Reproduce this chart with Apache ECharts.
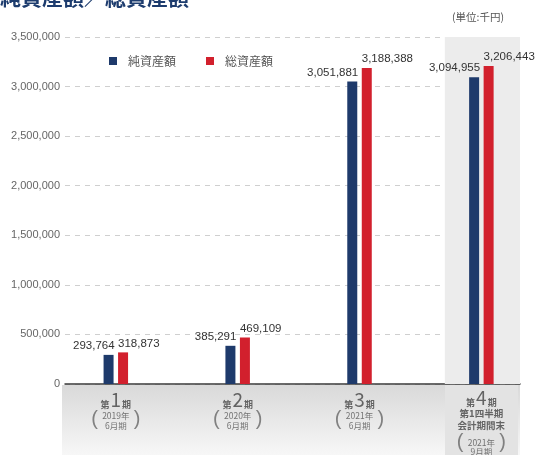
<!DOCTYPE html>
<html><head><meta charset="utf-8">
<script src="https://cdn.jsdelivr.net/npm/echarts@6/dist/echarts.min.js"></script>
<style>html,body{margin:0;padding:0;background:#fff;}#c{width:541px;height:455px;}</style>
</head><body><div id="c"></div>
<script>
var periods = ['1', '2', '3', '4'];
var periodNotes = [['2019年', '6月期'], ['2020年', '6月期'], ['2021年', '6月期'], ['2021年', '9月期']];
var netAssets = [293764, 385291, 3051881, 3094955];
var totalAssets = [318873, 469109, 3188388, 3206443];
var seriesNames = ['純資産額', '総資産額'];
var yTicks = [0, 500000, 1000000, 1500000, 2000000, 2500000, 3000000, 3500000];

function fmt(v) { return String(v).replace(/\B(?=(\d{3})+(?!\d))/g, ','); }
var NAVY = '#1e3a6b', RED = '#d2202d';
var CJK = '"Noto Sans CJK JP", sans-serif';
var NUM = '"Liberation Sans", sans-serif';

var chart = echarts.init(document.getElementById('c'), null, {renderer: 'canvas'});

var labelData = periods.map(function (p, i) {
  var txt;
  if (i === 3) {
    txt = '{a|第}{b|' + p + '}{a|期}\n{t|第1四半期}\n{t|会計期間末}\n{u|' + periodNotes[i][0] + '}\n{v|' + periodNotes[i][1] + '}';
  } else {
    txt = '{a|第}{b|' + p + '}{a|期}\n{s1|' + periodNotes[i][0] + '}\n{s2|' + periodNotes[i][1] + '}';
  }
  return {value: [i, 0], label: {formatter: txt, distance: i === 3 ? 5 : 7}};
});
var parenData = periods.map(function (p, i) {
  return {value: [i, 0], label: {distance: i === 3 ? 47 : 24}};
});

var option = {
  animation: false,
  backgroundColor: '#fff',
  graphic: [
    {type: 'text', left: 0, top: -13, z: 10, style: {text: '純資産額／総資産額', fill: '#1d3c6e', font: 'bold 21px ' + CJK}},
    {type: 'text', left: 452, top: 12, style: {text: '(単位:千円)', fill: '#555', font: '10.5px ' + CJK}},
    {type: 'rect', z: -10, shape: {x: 62, y: 385, width: 458, height: 70},
      style: {fill: new echarts.graphic.LinearGradient(0, 0, 0, 1, [{offset: 0, color: '#d9d9d9'}, {offset: 1, color: '#f7f7f7'}])}},
    {type: 'rect', z: -9, shape: {x: 445, y: 385, width: 73, height: 70}, style: {fill: '#e3e3e3'}}
  ],
  legend: {
    data: seriesNames,
    left: 104, top: 50,
    icon: 'rect', itemWidth: 8, itemHeight: 8, itemGap: 30,
    textStyle: {fontSize: 12, color: '#555', fontFamily: CJK, padding: [0, 0, 0, 6]}
  },
  grid: {left: 65, right: 21, top: 37, bottom: 71},
  xAxis: {
    type: 'value', min: -0.417, max: 3.317,
    axisLabel: {show: false}, axisTick: {show: false}, splitLine: {show: false},
    axisLine: {show: true, lineStyle: {color: '#3a3a3a', width: 1.5}}
  },
  yAxis: {
    type: 'value', min: 0, max: 3500000, interval: 500000,
    axisLine: {show: false}, axisTick: {show: false},
    axisLabel: {margin: 5, color: '#666', fontSize: 11, fontFamily: '"Liberation Sans", sans-serif',
      formatter: function (v) { return yTicks.indexOf(v) >= 0 ? fmt(v) : ''; }},
    splitLine: {lineStyle: {color: '#cfcfcf', type: [5, 5], width: 1}}
  },
  series: [
    {
      name: seriesNames[0], type: 'bar', barWidth: 10, barGap: '45%',
      itemStyle: {color: NAVY},
      data: netAssets.map(function (v, i) { return [i, v]; }),
      label: {show: true, position: 'top', align: 'right', offset: [6, 0], distance: 3,
        color: '#333', fontSize: 11.5, fontFamily: NUM, formatter: function (p) { return fmt(p.value[1]); }},
      markArea: {silent: true, itemStyle: {color: '#ececec'}, data: [[{xAxis: 2.70}, {xAxis: 3.317}]]}
    },
    {
      name: seriesNames[1], type: 'bar', barWidth: 10, barGap: '45%',
      itemStyle: {color: RED},
      data: totalAssets.map(function (v, i) { return [i, v]; }),
      label: {show: true, position: 'top', align: 'left', offset: [-5, 0], distance: 3,
        color: '#333', fontSize: 11.5, fontFamily: NUM, formatter: function (p) { return fmt(p.value[1]); }}
    },
    {
      type: 'scatter', symbolSize: 0, silent: true, z: 5,
      data: labelData,
      label: {show: true, position: 'bottom', color: '#444', fontFamily: CJK,
        rich: {
          a: {fontSize: 9, color: '#444', fontFamily: CJK, fontWeight: 'bold', lineHeight: 18, verticalAlign: 'bottom'},
          b: {fontSize: 19, color: '#444', fontFamily: CJK, lineHeight: 18, padding: [0, 1, 0, 1]},
          s1: {fontSize: 8.5, color: '#555', fontFamily: CJK, lineHeight: 13},
          s2: {fontSize: 8.5, color: '#555', fontFamily: CJK, lineHeight: 7},
          t: {fontSize: 9.5, color: '#444', fontFamily: CJK, fontWeight: 'bold', lineHeight: 12},
          u: {fontSize: 8.5, color: '#555', fontFamily: CJK, lineHeight: 16, verticalAlign: 'bottom'},
          v: {fontSize: 8.5, color: '#555', fontFamily: CJK, lineHeight: 10}
        }}
    },
    {
      type: 'scatter', symbolSize: 0, silent: true, z: 5,
      data: parenData,
      label: {show: true, position: 'bottom', formatter: '{p|(}{g|}{p|)}',
        rich: {
          p: {fontSize: 20, color: '#666', fontFamily: '"Liberation Sans", sans-serif', lineHeight: 22},
          g: {width: 36}
        }}
    }
  ]
};
chart.setOption(option);
</script></body></html>
